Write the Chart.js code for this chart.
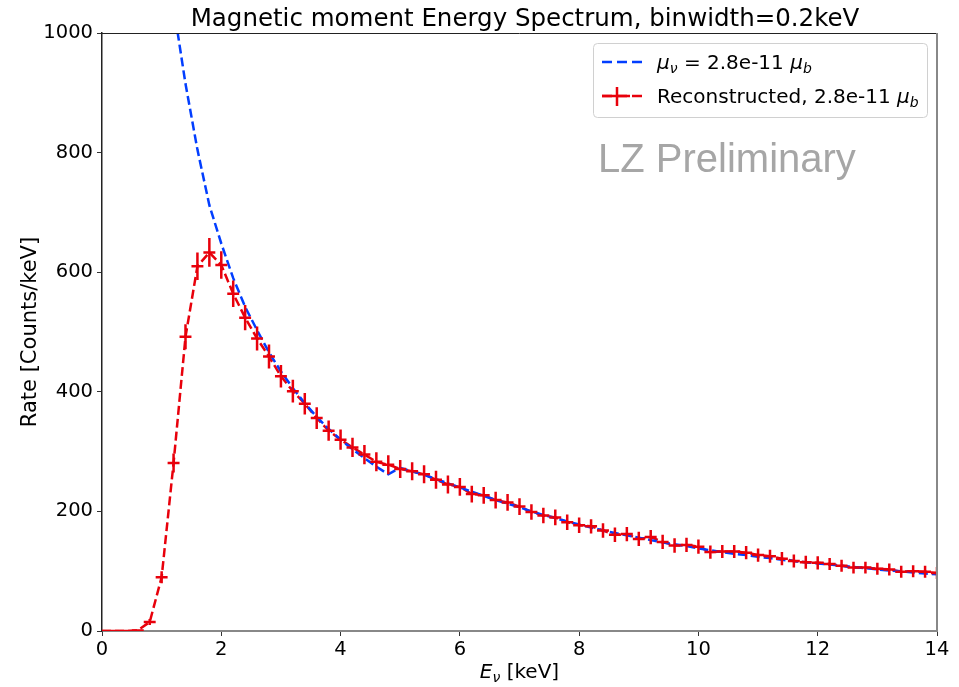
<!DOCTYPE html>
<html>
<head>
<meta charset="utf-8">
<script src="https://cdn.jsdelivr.net/npm/chart.js@4.4.1/dist/chart.umd.min.js"></script>
<style>body{margin:0;background:#fff}</style>
</head>
<body>
<canvas id="spectrumChart" width="959" height="687"></canvas>
<script>
// bin centres [keV]
const energy = [0, 0.2, 0.4, 0.6, 0.8, 1.0, 1.2, 1.4, 1.6, 1.8, 2.0,
  2.2, 2.4, 2.6, 2.8, 3.0, 3.2, 3.4, 3.6, 3.8, 4.0,
  4.2, 4.4, 4.6, 4.8, 5.0, 5.2, 5.4, 5.6, 5.8, 6.0,
  6.2, 6.4, 6.6, 6.8, 7.0, 7.2, 7.4, 7.6, 7.8, 8.0,
  8.2, 8.4, 8.6, 8.8, 9.0, 9.2, 9.4, 9.6, 9.8, 10.0,
  10.2, 10.4, 10.6, 10.8, 11.0, 11.2, 11.4, 11.6, 11.8, 12.0,
  12.2, 12.4, 12.6, 12.8, 13.0, 13.2, 13.4, 13.6, 13.8, 14.0];

// reconstructed rate [counts/keV]
const reconstructed = [0, 0, 0, 1, 15, 90, 281, 492, 610, 633, 612,
  564, 524, 489, 459, 426, 401, 380, 356, 335, 320,
  307, 295, 283, 278, 271, 267, 262, 253, 245, 241,
  229, 227, 219, 215, 208, 199, 193, 190, 182, 177,
  175, 168, 161, 162, 154, 157, 149, 143, 144, 141,
  132, 133, 133, 131, 127, 125, 121, 117, 115, 114,
  112, 109, 106, 106, 104, 103, 99, 100, 99, 97];

const reconErr = [0, 0, 0, 2, 5, 10, 16, 21, 23, 24, 23,
  22, 21, 20, 20, 19, 19, 18, 18, 17, 17,
  16, 16, 16, 16, 15, 15, 15, 15, 15, 15,
  14, 14, 14, 14, 14, 13, 13, 13, 13, 13,
  12, 12, 12, 12, 12, 12, 12, 12, 12, 12,
  11, 11, 11, 11, 11, 11, 11, 11, 11, 11,
  10, 10, 10, 10, 10, 10, 10, 10, 10, 10];

// true spectrum for mu_nu = 2.8e-11 mu_b
const theory = [null, null, null, null, null, null, 1045, 915, 805, 712, 648,
  590, 542, 503, 466, 434, 406, 381, 358, 338, 320,
  304, 289, 275, 262, 273, 267, 261, 254, 247, 240,
  233, 226, 219, 213, 207, 200, 194, 189, 183, 178,
  173, 168, 164, 160, 156, 152, 148, 145, 142, 138,
  135, 132, 129, 127, 124, 122, 119, 117, 115, 113,
  111, 109, 107, 105, 103, 101, 100, 98, 96, 95];

const xTicks = [0, 2, 4, 6, 8, 10, 12, 14];
const yTicks = [0, 200, 400, 600, 800, 1000];
const halfBin = 0.1;

const RED = '#e8000b';
const BLUE = '#023eff';
const FONT = '"DejaVu Sans"';

function drawRich(ctx, parts, x, y, size, align) {
  const fontOf = p => (p.it ? 'oblique ' : '') + (p.sub ? size * 0.7 : size) + 'px ' + FONT;
  let total = 0;
  parts.forEach(p => { ctx.font = fontOf(p); total += ctx.measureText(p.t).width; });
  let cx = align === 'center' ? x - total / 2 : x;
  ctx.textAlign = 'left';
  ctx.textBaseline = 'alphabetic';
  parts.forEach(p => {
    ctx.font = fontOf(p);
    ctx.fillText(p.t, cx, p.sub ? y + size * 0.2 : y);
    cx += ctx.measureText(p.t).width;
  });
}

const errorBars = {
  id: 'errorBars',
  afterDatasetsDraw(chart) {
    const {ctx, chartArea: a, scales: {x, y}} = chart;
    ctx.save();
    ctx.beginPath();
    ctx.rect(a.left, a.top - 2, a.right - a.left, a.bottom - a.top + 2);
    ctx.clip();
    ctx.strokeStyle = RED;
    ctx.lineWidth = 2.5;
    energy.forEach((e, i) => {
      const px = x.getPixelForValue(e);
      const py = y.getPixelForValue(reconstructed[i]);
      ctx.beginPath();
      ctx.moveTo(x.getPixelForValue(e - halfBin), py);
      ctx.lineTo(x.getPixelForValue(e + halfBin), py);
      ctx.moveTo(px, y.getPixelForValue(reconstructed[i] - reconErr[i]));
      ctx.lineTo(px, y.getPixelForValue(reconstructed[i] + reconErr[i]));
      ctx.stroke();
    });
    ctx.restore();
  }
};

const decorations = {
  id: 'decorations',
  afterDraw(chart) {
    const {ctx, chartArea: a} = chart;
    ctx.save();
    // top + right spines
    ctx.strokeStyle = '#222';
    ctx.lineWidth = 1;
    ctx.beginPath(); ctx.moveTo(a.left, a.top + 0.5); ctx.lineTo(a.right, a.top + 0.5); ctx.stroke();
    ctx.strokeStyle = '#888';
    ctx.lineWidth = 2;
    ctx.beginPath(); ctx.moveTo(a.right, a.top); ctx.lineTo(a.right, a.bottom); ctx.stroke();

    ctx.fillStyle = '#000';
    // title
    ctx.font = '24.5px ' + FONT;
    ctx.textAlign = 'center';
    ctx.fillText('Magnetic moment Energy Spectrum, binwidth=0.2keV', 525, 26);
    // x title
    drawRich(ctx, [{t: 'E', it: true}, {t: 'ν', it: true, sub: true}, {t: ' [keV]'}],
      (a.left + a.right) / 2, 678, 20, 'center');
    // y title
    ctx.save();
    ctx.translate(36, (a.top + a.bottom) / 2);
    ctx.rotate(-Math.PI / 2);
    ctx.font = '21px ' + FONT;
    ctx.textAlign = 'center';
    ctx.fillText('Rate [Counts/keV]', 0, 0);
    ctx.restore();

    // legend
    ctx.fillStyle = 'rgba(255,255,255,0.8)';
    ctx.strokeStyle = '#d0d0d0';
    ctx.lineWidth = 1;
    ctx.beginPath();
    ctx.roundRect(593.5, 43.5, 334, 74, 4);
    ctx.fill();
    ctx.stroke();

    ctx.lineWidth = 2.5;
    ctx.setLineDash([10, 5]);
    ctx.strokeStyle = BLUE;
    ctx.beginPath(); ctx.moveTo(602, 62); ctx.lineTo(642, 62); ctx.stroke();
    ctx.strokeStyle = RED;
    ctx.beginPath(); ctx.moveTo(602, 96); ctx.lineTo(642, 96); ctx.stroke();
    ctx.setLineDash([]);
    ctx.beginPath();
    ctx.moveTo(602, 96); ctx.lineTo(630, 96);
    ctx.moveTo(617, 87); ctx.lineTo(617, 106);
    ctx.stroke();

    ctx.fillStyle = '#000';
    drawRich(ctx, [{t: 'μ', it: true}, {t: 'ν', it: true, sub: true}, {t: ' = 2.8e-11 '},
      {t: 'μ', it: true}, {t: 'b', it: true, sub: true}], 657, 69, 20, 'left');
    drawRich(ctx, [{t: 'Reconstructed, 2.8e-11 '}, {t: 'μ', it: true}, {t: 'b', it: true, sub: true}],
      657, 103, 20, 'left');

    // watermark
    ctx.fillStyle = '#a6a6a6';
    ctx.font = '40px "Liberation Sans"';
    ctx.textAlign = 'left';
    ctx.fillText('LZ Preliminary', 598, 172);
    ctx.restore();
  }
};

const spectrumGraph = document.getElementById('spectrumChart');

const spectrumData = {
  labels: energy,
  datasets: [{
    label: 'mu_nu = 2.8e-11 mu_b',
    data: theory,
    borderColor: BLUE,
    borderWidth: 2.5,
    borderDash: [9, 4],
    pointRadius: 0,
    fill: false,
    tension: 0,
    spanGaps: false
  }, {
    label: 'Reconstructed, 2.8e-11 mu_b',
    data: reconstructed,
    borderColor: RED,
    borderWidth: 2.5,
    borderDash: [9, 4],
    pointRadius: 0,
    fill: false,
    tension: 0
  }]
};

const spectrumOptions = {
  animation: false,
  responsive: false,
  layout: {padding: {top: 33, right: 22, left: 0, bottom: 0}},
  scales: {
    x: {
      type: 'linear',
      min: 0,
      max: 14,
      afterBuildTicks: s => { s.ticks = xTicks.map(v => ({value: v})); },
      afterFit: s => { s.height = 56; },
      ticks: {color: '#000', font: {family: FONT, size: 19.5}, padding: 2, maxRotation: 0,
        callback: v => String(v)},
      grid: {drawOnChartArea: false, tickLength: 5, tickColor: '#333'},
      border: {color: '#888', width: 2}
    },
    y: {
      min: 0,
      max: 1000,
      afterBuildTicks: s => { s.ticks = yTicks.map(v => ({value: v})); },
      afterFit: s => { s.width = 102; },
      ticks: {color: '#000', font: {family: FONT, size: 19.5}, padding: 4,
        callback: v => String(v)},
      grid: {drawOnChartArea: false, tickLength: 5, tickColor: '#333'},
      border: {color: '#222', width: 1.5}
    }
  },
  plugins: {
    legend: {display: false},
    tooltip: {enabled: false}
  }
};

// linear x needs {x, y} points
spectrumData.datasets.forEach(ds => {
  ds.data = ds.data.map((v, i) => ({x: energy[i], y: v}));
});

let spectrum = new Chart(spectrumGraph, {
  type: 'line',
  data: spectrumData,
  options: spectrumOptions,
  plugins: [errorBars, decorations]
});
</script>
</body>
</html>
